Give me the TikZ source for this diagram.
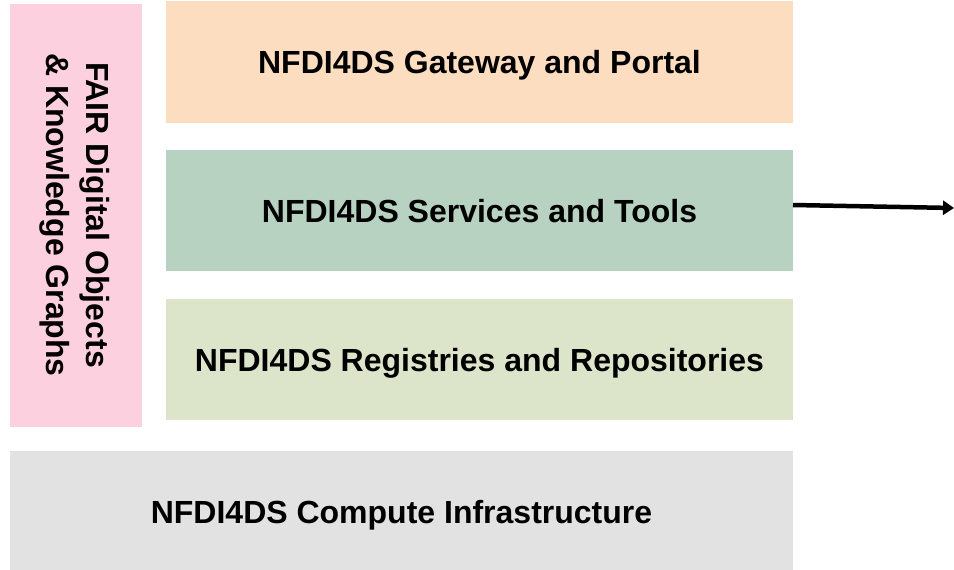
\documentclass[tikz,border=0pt]{standalone}
\usepackage{fontspec}
\setmainfont{Liberation Sans}
\usetikzlibrary{arrows.meta}
\definecolor{cpink}{HTML}{FDD0E0}
\definecolor{corange}{HTML}{FDDDC0}
\definecolor{cgreen}{HTML}{B7D2C1}
\definecolor{clgreen}{HTML}{DCE5CA}
\definecolor{cgray}{HTML}{E2E2E2}
\tikzset{
  layer/.style={rectangle, inner sep=0pt, outer sep=0pt, anchor=north west},
  lbl/.style={inner sep=0pt, anchor=base, yshift=-11.5pt,
    font=\fontsize{32}{38}\selectfont\bfseries},
}
\begin{document}
\begin{tikzpicture}[x=1pt,y=-1pt]
\useasboundingbox (0,0) rectangle (954,570);
\node[layer, fill=cpink, minimum width=132pt, minimum height=423pt] (fair) at (10,4) {};
\node[rotate=-90, inner sep=0pt, font=\fontsize{32}{40}\selectfont\bfseries, align=center] (fairtxt) at (75,215) {FAIR Digital Objects\\\& Knowledge Graphs};
\node[layer, fill=corange, minimum width=627pt, minimum height=122pt] (gate) at (166,1) {};
\node[lbl] (gatetxt) at (gate.center) {NFDI4DS Gateway and Portal};
\node[layer, fill=cgreen, minimum width=627pt, minimum height=121pt] (serv) at (166,150) {};
\node[lbl] (servtxt) at (serv.center) {NFDI4DS Services and Tools};
\node[layer, fill=clgreen, minimum width=627pt, minimum height=121pt] (reg) at (166,299) {};
\node[lbl] (regtxt) at (reg.center) {NFDI4DS Registries and Repositories};
\node[layer, fill=cgray, minimum width=783pt, minimum height=119pt] (comp) at (10,451) {};
\node[lbl] (comptxt) at ([yshift=-1pt]comp.center) {NFDI4DS Compute Infrastructure};
\coordinate (out) at (954,208);
\draw[line width=4.5pt, -{Triangle[length=11pt,width=14pt]}] ([yshift=5.5pt]serv.east) -- (out);
\end{tikzpicture}
\end{document}
